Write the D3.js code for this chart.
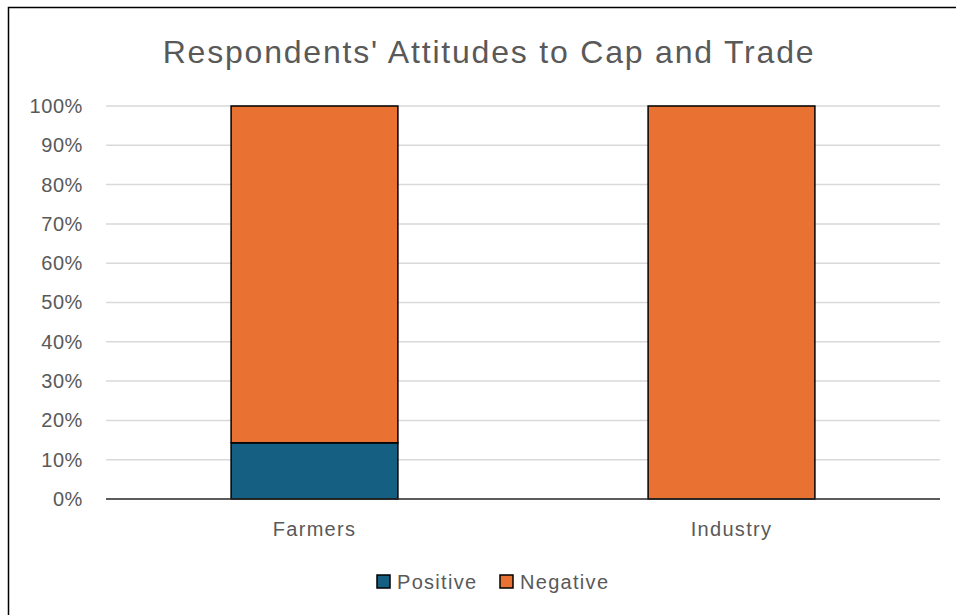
<!DOCTYPE html>
<html>
<head>
<meta charset="utf-8">
<script src="https://cdn.jsdelivr.net/npm/d3@7"></script>
<style>
  body { margin: 0; background: #fff; }
  svg { display: block; font-family: "Liberation Sans", Arial, sans-serif; }
</style>
</head>
<body>
<svg id="chart" width="956" height="615"></svg>
<script>
// chart data
var categories = ["Farmers", "Industry"];
var seriesNames = ["Positive", "Negative"];
var positive = [0.143, 0];
var negative = [0.857, 1];
var yTicks = [0, 0.1, 0.2, 0.3, 0.4, 0.5, 0.6, 0.7, 0.8, 0.9, 1];
var colors = ["#156082", "#E97132"];

var svg = d3.select("#chart");
var width = 956, height = 615;

// outer frame (runs off the right and bottom edges)
svg.append("rect")
    .attr("x", 8.5).attr("y", 7.5)
    .attr("width", 960).attr("height", 620)
    .attr("fill", "#fff")
    .attr("stroke", "#000")
    .attr("stroke-width", 1.5);

var margin = {left: 106, right: 16, top: 106, bottom: 116};

var x = d3.scaleBand()
    .domain(categories)
    .range([margin.left, width - margin.right])
    .paddingInner(0.6)
    .paddingOuter(0.3);

var y = d3.scaleLinear()
    .domain([0, 1])
    .range([height - margin.bottom, margin.top]);

// title
svg.append("text")
    .attr("x", 489).attr("y", 63)
    .attr("text-anchor", "middle")
    .attr("font-size", 32)
    .attr("letter-spacing", 1.8)
    .attr("fill", "#595959")
    .text("Respondents' Attitudes to Cap and Trade");

// gridlines
svg.append("g")
    .selectAll("line")
    .data(yTicks.filter(function(d) { return d > 0; }))
    .enter().append("line")
    .attr("x1", margin.left).attr("x2", width - margin.right)
    .attr("y1", function(d) { return y(d); })
    .attr("y2", function(d) { return y(d); })
    .attr("stroke", "#d9d9d9")
    .attr("stroke-width", 1.5);

// y axis labels
var yAxis = d3.axisLeft(y)
    .tickValues(yTicks)
    .tickFormat(d3.format(".0%"))
    .tickSize(0)
    .tickPadding(23);

var yg = svg.append("g")
    .attr("transform", "translate(" + margin.left + ",0)")
    .call(yAxis);
yg.select(".domain").remove();
yg.selectAll("text")
    .attr("font-size", 20)
    .attr("letter-spacing", 0.6)
    .attr("fill", "#595959")
    .attr("font-family", "Liberation Sans, Arial, sans-serif");

// stacked bars
var rows = categories.map(function(c, i) {
  return {category: c, Positive: positive[i], Negative: negative[i]};
});
var stacked = d3.stack().keys(seriesNames)(rows);

svg.append("g")
    .selectAll("g")
    .data(stacked)
    .enter().append("g")
    .attr("fill", function(d, i) { return colors[i]; })
    .selectAll("rect")
    .data(function(d) { return d.filter(function(p) { return p[1] - p[0] > 0; }); })
    .enter().append("rect")
    .attr("x", function(d) { return x(d.data.category); })
    .attr("width", x.bandwidth())
    .attr("y", function(d) { return y(d[1]); })
    .attr("height", function(d) { return y(d[0]) - y(d[1]); })
    .attr("stroke", "#000")
    .attr("stroke-width", 1.5);

// baseline
svg.append("line")
    .attr("x1", margin.left).attr("x2", width - margin.right)
    .attr("y1", y(0)).attr("y2", y(0))
    .attr("stroke", "#262626")
    .attr("stroke-width", 1.5);

// x axis labels
var xAxis = d3.axisBottom(x).tickSize(0).tickPadding(23);
var xg = svg.append("g")
    .attr("transform", "translate(0," + y(0) + ")")
    .call(xAxis);
xg.select(".domain").remove();
xg.selectAll("text")
    .attr("font-size", 20)
    .attr("letter-spacing", 1.3)
    .attr("fill", "#595959")
    .attr("font-family", "Liberation Sans, Arial, sans-serif");

// legend
var legendX = [377, 500];
var legend = svg.append("g")
    .selectAll("g")
    .data(seriesNames)
    .enter().append("g")
    .attr("transform", function(d, i) { return "translate(" + legendX[i] + ",575)"; });
legend.append("rect")
    .attr("width", 13).attr("height", 13)
    .attr("fill", function(d, i) { return colors[i]; })
    .attr("stroke", "#000")
    .attr("stroke-width", 1.5);
legend.append("text")
    .attr("x", 20).attr("y", 14)
    .attr("font-size", 20)
    .attr("letter-spacing", 1.3)
    .attr("fill", "#595959")
    .text(function(d) { return d; });
</script>
</body>
</html>
